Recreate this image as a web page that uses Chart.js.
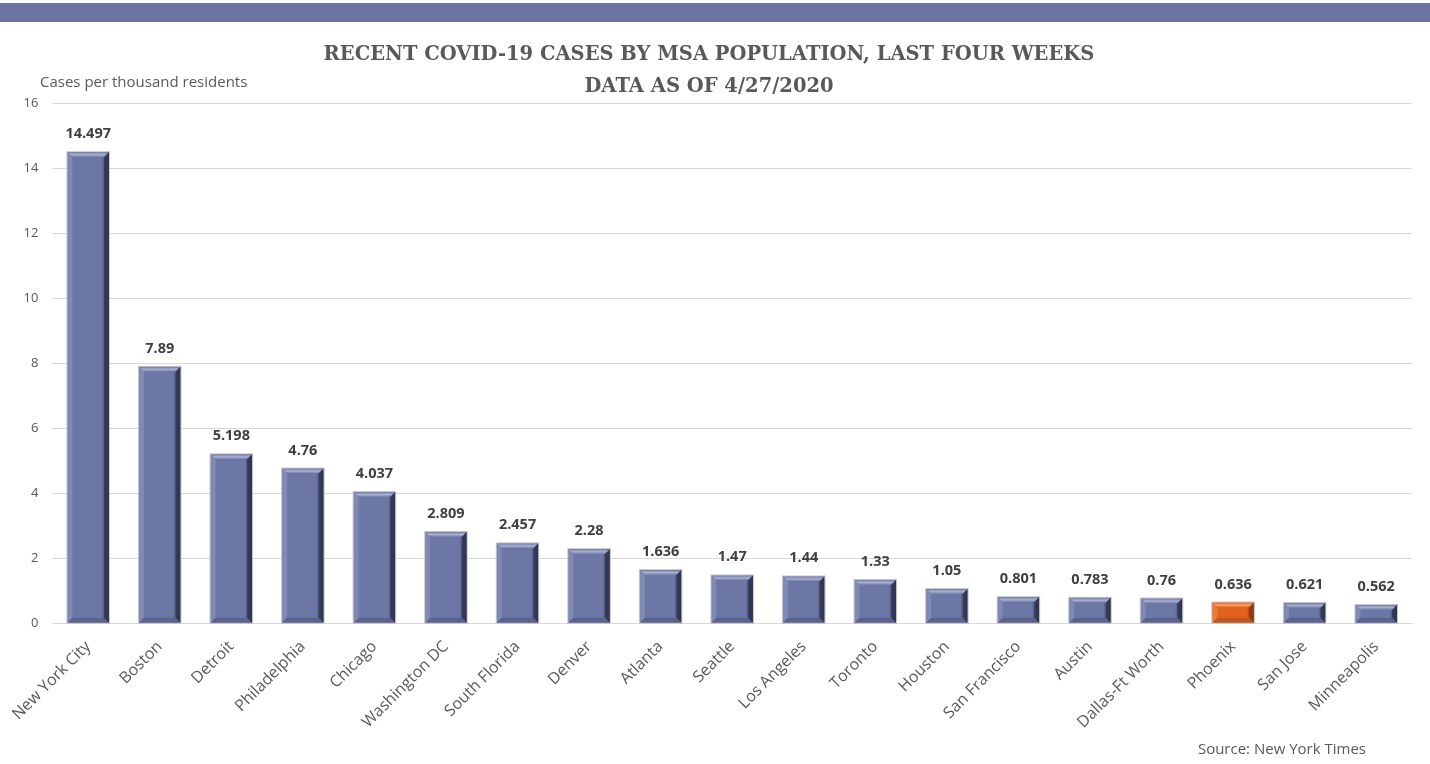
<!DOCTYPE html>
<html>
<head>
<meta charset="utf-8">
<script src="https://cdn.jsdelivr.net/npm/chart.js@4.4.0/dist/chart.umd.min.js"></script>
<style>
html,body{margin:0;padding:0;background:#fff;}
#wrap{width:1430px;height:764px;position:relative;}
</style>
</head>
<body>
<div id="wrap"><canvas id="c" width="1430" height="764"></canvas></div>
<script>
const categories = ["New York City","Boston","Detroit","Philadelphia","Chicago","Washington DC","South Florida","Denver","Atlanta","Seattle","Los Angeles","Toronto","Houston","San Francisco","Austin","Dallas-Ft Worth","Phoenix","San Jose","Minneapolis"];
const casesPerThousand = [14.497,7.89,5.198,4.76,4.037,2.809,2.457,2.28,1.636,1.47,1.44,1.33,1.05,0.801,0.783,0.76,0.636,0.621,0.562];
const valueLabels = ["14.497","7.89","5.198","4.76","4.037","2.809","2.457","2.28","1.636","1.47","1.44","1.33","1.05","0.801","0.783","0.76","0.636","0.621","0.562"];
const yTicks = [0,2,4,6,8,10,12,14,16];
const highlightCategory = "Phoenix";

const BLUE = {main:"#6c77a5", top:"#aab2d2", left:"#7f89b4", right:"#2e3350", bottom:"#5a6390"};
const ORANGE = {main:"#e2631c", top:"#f7a46c", left:"#ec7a38", right:"#8c3a0c", bottom:"#c0561a"};
const palette = categories.map(c => c === highlightCategory ? ORANGE : BLUE);

const bandPlugin = {
  id:'band',
  beforeDraw(chart){
    const ctx = chart.ctx;
    ctx.save();
    ctx.fillStyle = "#6b74a0";
    ctx.fillRect(0, 3, chart.width, 19);
    ctx.restore();
  }
};

const bevelPlugin = {
  id:'bevel',
  afterDatasetsDraw(chart){
    const ctx = chart.ctx;
    const meta = chart.getDatasetMeta(0);
    meta.data.forEach((bar, i) => {
      const p = bar.getProps(['x','y','base','width'], true);
      const l = p.x - p.width/2, r = p.x + p.width/2, t = p.y, b = p.base;
      const c = palette[i];
      const bv = Math.min(5, (b - t)/3);
      ctx.save();
      const g = ctx.createLinearGradient(l, 0, r, 0);
      g.addColorStop(0, c.left);
      g.addColorStop(0.12, c.main);
      g.addColorStop(0.82, c.main);
      g.addColorStop(1, c.right);
      ctx.fillStyle = g;
      ctx.fillRect(l, t, p.width, b - t);
      const gt = ctx.createLinearGradient(0, t, 0, t + bv);
      gt.addColorStop(0, c.main);
      gt.addColorStop(0.5, c.top);
      gt.addColorStop(1, c.main);
      ctx.fillStyle = gt;
      ctx.beginPath();
      ctx.moveTo(l, t); ctx.lineTo(r, t); ctx.lineTo(r - bv, t + bv); ctx.lineTo(l + bv, t + bv); ctx.closePath();
      ctx.fill();
      ctx.fillStyle = c.right;
      ctx.beginPath();
      ctx.moveTo(r, t); ctx.lineTo(r, b); ctx.lineTo(r - bv, b - bv); ctx.lineTo(r - bv, t + bv); ctx.closePath();
      ctx.globalAlpha = 0.8;
      ctx.fill();
      ctx.globalAlpha = 1;
      ctx.fillStyle = c.left;
      ctx.beginPath();
      ctx.moveTo(l, t); ctx.lineTo(l + bv, t + bv); ctx.lineTo(l + bv, b - bv); ctx.lineTo(l, b); ctx.closePath();
      ctx.fill();
      ctx.fillStyle = c.bottom;
      ctx.beginPath();
      ctx.moveTo(l, b); ctx.lineTo(l + bv, b - bv); ctx.lineTo(r - bv, b - bv); ctx.lineTo(r, b); ctx.closePath();
      ctx.fill();
      ctx.strokeStyle = "rgba(190,190,190,0.9)";
      ctx.lineWidth = 1;
      ctx.strokeRect(l - 0.5, t - 0.5, p.width + 1, b - t + 1);
      ctx.fillStyle = "#404040";
      ctx.font = "bold 14.5px 'Open Sans'";
      ctx.textAlign = "center";
      ctx.textBaseline = "alphabetic";
      ctx.fillText(valueLabels[i], p.x, t - 14);
      ctx.restore();
    });
  }
};

const textPlugin = {
  id:'texts',
  afterDraw(chart){
    const ctx = chart.ctx;
    const a = chart.chartArea;
    ctx.save();
    ctx.fillStyle = "#595959";
    ctx.font = "15px 'Open Sans'";
    ctx.textAlign = "left";
    ctx.textBaseline = "middle";
    ctx.fillText("Cases per thousand residents", 40, a.top - 21);
    ctx.textAlign = "right";
    ctx.fillText("Source: New York Times", 1366, 750);
    ctx.restore();
  }
};

new Chart(document.getElementById('c'), {
  type:'bar',
  data:{
    labels:categories,
    datasets:[{
      data:casesPerThousand,
      backgroundColor:palette.map(p => p.main),
      barPercentage:0.58,
      categoryPercentage:1.0
    }]
  },
  options:{
    responsive:false,
    animation:false,
    devicePixelRatio:1,
    layout:{padding:{left:6, right:18, top:0, bottom:18}},
    plugins:{
      legend:{display:false},
      tooltip:{enabled:false},
      title:{
        display:true,
        text:["RECENT COVID-19 CASES BY MSA POPULATION, LAST FOUR WEEKS","DATA AS OF 4/27/2020"],
        color:"#595959",
        font:{family:"'DejaVu Serif'", size:19.5, weight:'bold', lineHeight:1.65},
        padding:{top:39, bottom:0}
      }
    },
    scales:{
      x:{
        grid:{display:false, drawTicks:false},
        border:{display:true, color:"#d9d9d9", width:1},
        ticks:{
          color:"#595959",
          font:{family:"'Open Sans'", size:16},
          maxRotation:45, minRotation:45,
          autoSkip:false,
          padding:14
        }
      },
      y:{
        min:0, max:16,
        afterBuildTicks(axis){ axis.ticks = yTicks.map(v => ({value:v})); },
        grid:{color:"#d9d9d9", drawTicks:false},
        border:{display:false},
        ticks:{
          color:"#595959",
          font:{family:"'Open Sans'", size:13},
          padding:14
        }
      }
    }
  },
  plugins:[bandPlugin, bevelPlugin, textPlugin]
});
</script>
</body>
</html>
